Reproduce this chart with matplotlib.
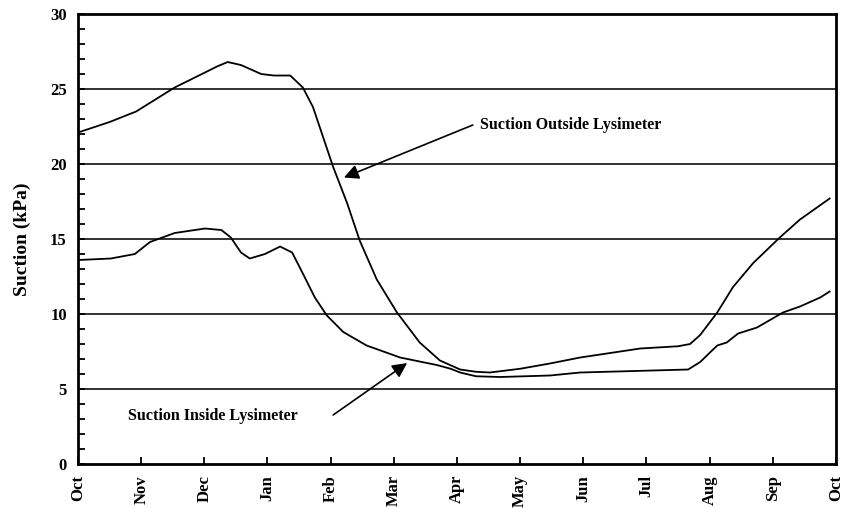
import numpy as np
from matplotlib import pyplot as plt

""" Data (x in months from October) """
months = ['Oct', 'Nov', 'Dec', 'Jan', 'Feb', 'Mar', 'Apr', 'May', 'Jun',
          'Jul', 'Aug', 'Sep', 'Oct']

# Suction outside lysimeter
out_x = [0.0, 0.5, 0.92, 1.53, 2.01, 2.2, 2.37, 2.58, 2.90, 3.1, 3.36,
         3.56, 3.72, 3.88, 4.04, 4.26, 4.46, 4.73, 5.05, 5.41, 5.73, 6.05,
         6.3, 6.52, 7.0, 7.47, 7.95, 8.9, 9.5, 9.69, 9.85, 10.12, 10.37,
         10.69, 11.11, 11.43, 11.9]
out_y = [22.1, 22.8, 23.5, 25.1, 26.1, 26.5, 26.8, 26.6, 26.0, 25.9, 25.9,
         25.1, 23.8, 21.8, 19.8, 17.4, 14.9, 12.3, 10.1, 8.1, 6.9, 6.3,
         6.15, 6.1, 6.35, 6.7, 7.1, 7.7, 7.85, 8.0, 8.6, 10.1, 11.8,
         13.4, 15.1, 16.3, 17.7]

# Suction inside lysimeter
in_x = [0.0, 0.52, 0.9, 1.14, 1.53, 2.01, 2.27, 2.42, 2.58, 2.72, 2.96,
        3.2, 3.39, 3.56, 3.75, 3.94, 4.2, 4.57, 5.1, 5.68, 5.9, 6.05,
        6.3, 6.68, 7.47, 7.95, 9.66, 9.85, 10.12, 10.27, 10.45, 10.75,
        11.16, 11.43, 11.75, 11.9]
in_y = [13.6, 13.7, 14.0, 14.8, 15.4, 15.7, 15.6, 15.1, 14.1, 13.7, 14.0,
        14.5, 14.1, 12.7, 11.1, 9.9, 8.8, 7.9, 7.1, 6.6, 6.35, 6.1,
        5.85, 5.8, 5.9, 6.1, 6.3, 6.8, 7.9, 8.1, 8.7, 9.1,
        10.1, 10.5, 11.1, 11.5]

plt.rcParams['font.family'] = ['Liberation Serif', 'DejaVu Serif']
plt.rcParams['font.weight'] = 'bold'

fig = plt.figure(figsize=(8.44, 5.08), dpi=100)
ax = fig.add_axes([0.0924, 0.0866, 0.8981, 0.8858])

for yg in [5, 10, 15, 20, 25]:
    ax.axhline(yg, color='#222222', lw=1.3, zorder=1)

ax.plot(out_x, out_y, color='black', lw=1.3, zorder=2)
ax.plot(in_x, in_y, color='black', lw=1.3, zorder=2)

ax.set_xlim(0, 12)
ax.set_ylim(0, 30)
ax.set_xticks(range(13))
ax.set_xticklabels(months, rotation=90, fontsize=12, fontweight='bold')
ax.set_yticks(range(0, 31, 5))
ax.set_yticklabels([str(v) for v in range(0, 31, 5)], fontsize=12,
                   fontweight='bold')
ax.set_yticks(range(0, 31), minor=True)
ax.tick_params(axis='x', direction='in', length=5, width=1.3, pad=8)
ax.tick_params(axis='y', which='both', direction='in', length=5, width=1.3,
               pad=8)
for s in ax.spines.values():
    s.set_linewidth(2)
ax.set_ylabel('Suction (kPa)', fontsize=14, fontweight='bold', labelpad=14)

""" Annotations """
ax.annotate('', xy=(4.21, 19.1), xytext=(6.25, 22.6),
            arrowprops=dict(arrowstyle='-|>', color='black', lw=1.2,
                            mutation_scale=22, shrinkA=0, shrinkB=0))
ax.text(6.36, 22.6, 'Suction Outside Lysimeter', fontsize=11.5,
        fontweight='bold', va='center', ha='left')
ax.annotate('', xy=(5.21, 6.73), xytext=(4.04, 3.27),
            arrowprops=dict(arrowstyle='-|>', color='black', lw=1.2,
                            mutation_scale=22, shrinkA=0, shrinkB=0))
ax.text(0.79, 3.2, 'Suction Inside Lysimeter', fontsize=11.5,
        fontweight='bold', va='center', ha='left')

fig.savefig('out.png', dpi=100)
